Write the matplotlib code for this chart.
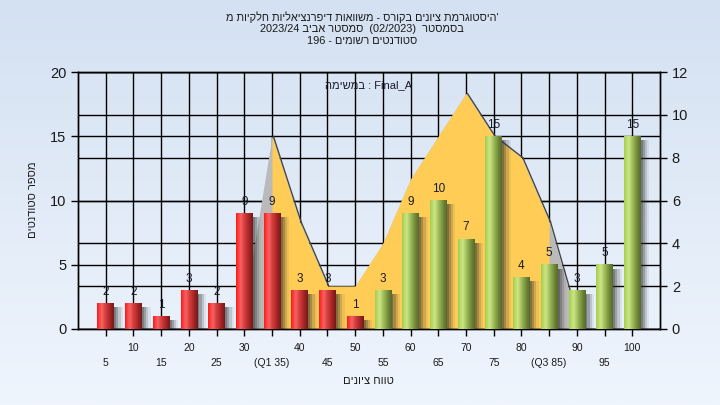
import numpy as np
import matplotlib
matplotlib.use('Agg')
import matplotlib.pyplot as plt
import matplotlib.transforms as mtransforms

plt.rcParams['font.family'] = ['Liberation Sans', 'DejaVu Sans']

# ---------------- data ----------------
categories = [5, 10, 15, 20, 25, 30, 35, 40, 45, 50, 55, 60, 65, 70, 75, 80, 85, 90, 95, 100]
counts = [2, 2, 1, 3, 2, 9, 9, 3, 3, 1, 3, 9, 10, 7, 15, 4, 5, 3, 5, 15]
curve_x = [30, 35, 40, 45, 50, 55, 60, 65, 70, 75, 80, 85, 90]
curve_y = [1, 9, 5, 2, 2, 4, 7, 9, 11, 9, 8, 5, 0.5]
q1, q3 = 35, 85
pass_mark = 55
left_ticks = [0, 5, 10, 15, 20]
right_ticks = [0, 2, 4, 6, 8, 10, 12]

def rev(s):
    return s[::-1]

title1 = rev("היסטוגרמת ציונים בקורס - משוואות דיפרנציאליות חלקיות מ") + "'"
title2 = "2023/24 " + rev("סמסטר אביב") + "  (02/2023)  " + rev("בסמסטר")
title3 = "196 - " + rev("סטודנטים רשומים")
legend_text = rev("במשימה") + " : Final_A"
ylabel = rev("מספר סטודנטים")
xlabel = rev("טווח ציונים")

# ---------------- figure ----------------
fig = plt.figure(figsize=(7.2, 4.05), dpi=100)
bg = fig.add_axes([0, 0, 1, 1], zorder=-10)
grad = np.linspace(0, 1, 256).reshape(-1, 1)
top_c = np.array([212, 225, 242]) / 255
bot_c = np.array([239, 245, 253]) / 255
bg_img = top_c[None, None, :] * (1 - grad[:, :, None]) + bot_c[None, None, :] * grad[:, :, None]
bg.imshow(bg_img, aspect='auto', extent=[0, 1, 0, 1])
bg.axis('off')

ax = fig.add_axes([78 / 720, 1 - 329 / 405, 582 / 720, 257 / 405])
ax2 = ax.twinx()
ax.set_zorder(2)
ax2.set_zorder(1)
ax.patch.set_visible(False)
ax2.patch.set_facecolor('#b3b3b3')

xmin, xmax = 0, 105
ax.set_xlim(xmin, xmax)

# ---- curve on right axis ----
ax2.set_ylim(0, 12)
cx = np.array(curve_x, dtype=float)
cy = np.array(curve_y, dtype=float)
ax2.fill_between(cx, 0, cy, color='#bababa', lw=0, zorder=2)
mask = (cx >= q1) & (cx <= q3)
ax2.fill_between(cx[mask], 0, cy[mask], color='#ffcc55', lw=0, zorder=2.1)
# dark edge on the falling sides of the curve
for i in range(len(cx) - 1):
    if cy[i + 1] < cy[i]:
        ax2.plot([cx[i] + 0.25, cx[i + 1] + 0.25], [cy[i], cy[i + 1]], color='#454545', lw=1.0,
                 zorder=2.2, solid_capstyle='round')

# grids (below the curve)
ax2.set_axisbelow(True)
ax2.set_yticks(right_ticks)
ax2.yaxis.grid(True, color='black', lw=1.0)
for c in categories:
    ax2.axvline(c, color='black', lw=1.0, zorder=0.6)
blend = mtransforms.blended_transform_factory(ax2.transAxes, ax.transData)
ax.set_ylim(0, 20)
for v in left_ticks:
    ax2.plot([0, 1], [v, v], transform=blend, color='black', lw=1.0, zorder=0.6)

# ---- bars on left axis ----
w = 3.0
red_stops = np.array([[255, 25, 25], [245, 100, 100], [215, 60, 60], [160, 35, 35], [115, 25, 25]]) / 255
green_stops = np.array([[165, 205, 80], [205, 230, 135], [160, 190, 90], [110, 135, 55], [85, 105, 45]]) / 255
pos = np.array([0.0, 0.28, 0.5, 0.8, 1.0])
xs = np.linspace(0, 1, 64)

def make_grad(stops):
    return np.stack([np.interp(xs, pos, stops[:, k]) for k in range(3)], axis=-1)[None, :, :]

red_grad = make_grad(red_stops)
green_grad = make_grad(green_stops)

for c, n in zip(categories, counts):
    # soft shadow
    for off, a in [(0.4, 0.30), (0.8, 0.25), (1.2, 0.16), (1.6, 0.08)]:
        ax.bar(c + off, max(n - 0.3, 0), width=w, bottom=0, color='#303030', alpha=a, lw=0, zorder=2)
    g = red_grad if c < pass_mark else green_grad
    ax.imshow(g, extent=[c - w / 2, c + w / 2, 0, n], aspect='auto', interpolation='bilinear', zorder=3)
    ax.annotate(str(n), (c, n), xytext=(0, 4), textcoords='offset points', ha='center', va='bottom',
                fontsize=8.5, color='#1a1a2a', zorder=5)

ax.set_xlim(xmin, xmax)
ax.set_ylim(0, 20)
ax.set_yticks(left_ticks)

# x tick labels in two rows
labels = []
for c in categories:
    s = str(c)
    if c == q1:
        s = "(Q1 %d)" % c
    elif c == q3:
        s = "(Q3 %d)" % c
    if c % 10 == 5:
        s = "\n" + s
    labels.append(s)
ax.set_xticks(categories)
ax.set_xticklabels(labels, fontsize=7.5, color='#1a1a1a')
for t in ax.get_xticklabels():
    t.set_linespacing(1.7)
ax.tick_params(axis='x', direction='out', length=5, width=1, pad=5)
ax.tick_params(axis='y', direction='out', length=5, width=1, labelsize=10.5, labelcolor='#1a1a1a')
ax2.tick_params(axis='y', direction='out', length=5, width=1, labelsize=10.5, labelcolor='#1a1a1a')

for a in (ax, ax2):
    for s in a.spines.values():
        s.set_color('black')
        s.set_linewidth(1.0)

# texts
ax.text(0.5, 0.95, legend_text, transform=ax.transAxes, ha='center', va='center', fontsize=8, color='#1a1a2a', zorder=6)
tx = 362 / 720
fig.text(tx, 1 - 17 / 405, title1, ha='center', va='center', fontsize=7.9, color='#1a1a1a')
fig.text(tx, 1 - 29 / 405, title2, ha='center', va='center', fontsize=7.9, color='#1a1a1a')
fig.text(tx, 1 - 41 / 405, title3, ha='center', va='center', fontsize=7.9, color='#1a1a1a')
fig.text(33 / 720, 1 - 200 / 405, ylabel, ha='center', va='center', rotation=90, fontsize=8, color='#1a1a1a')
fig.text(368 / 720, 1 - 381 / 405, xlabel, ha='center', va='center', fontsize=8, color='#1a1a1a')

fig.savefig('out.png', dpi=100)
